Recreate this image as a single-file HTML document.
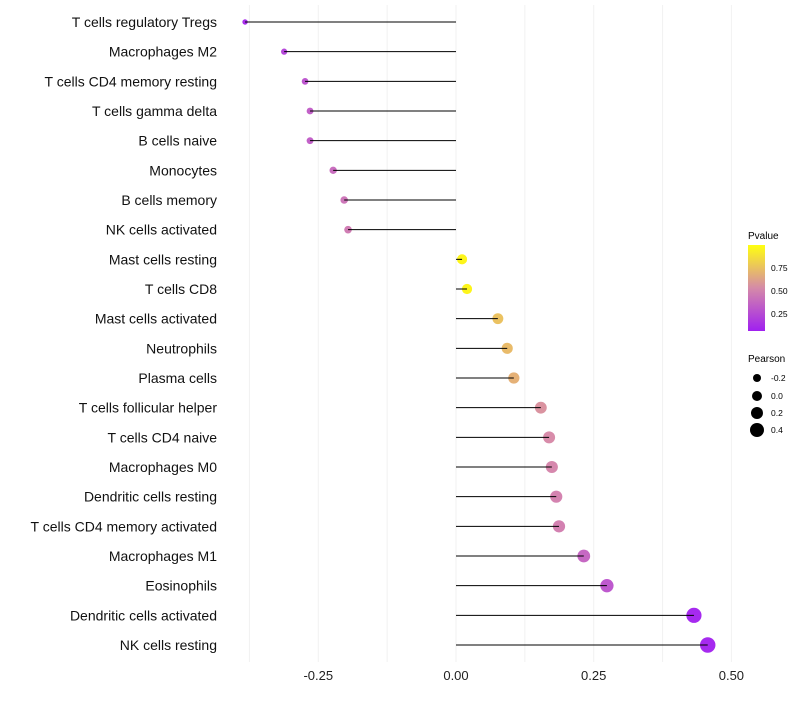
<!DOCTYPE html>
<html><head><meta charset="utf-8"><style>
body{margin:0;background:#fff;font-family:"Liberation Sans",sans-serif}
</style></head><body>
<svg id="chart" width="800" height="700" xmlns="http://www.w3.org/2000/svg" font-family="Liberation Sans, sans-serif">
<defs><linearGradient id="pg" x1="0" y1="1" x2="0" y2="0">
<stop offset="0" stop-color="#A020F0"/><stop offset="0.5" stop-color="#D58AA8"/><stop offset="1" stop-color="#FFFF10"/></linearGradient></defs>
<g id="grid"></g><g id="dots"></g><g id="marks"></g><g id="labels"></g><g id="xaxis"></g>
<g>
<text x="748" y="239" font-size="10">Pvalue</text>
<rect x="748" y="245" width="17" height="86" fill="url(#pg)"/>
<text x="771" y="271" font-size="8.5">0.75</text>
<text x="771" y="294" font-size="8.5">0.50</text>
<text x="771" y="317" font-size="8.5">0.25</text>
</g>
<g>
<text x="748" y="362" font-size="10">Pearson</text>
<circle cx="757" cy="378" r="4"/><text x="771" y="381" font-size="8.5">-0.2</text>
<circle cx="757" cy="396" r="5"/><text x="771" y="399" font-size="8.5">0.0</text>
<circle cx="757" cy="413" r="6"/><text x="771" y="416" font-size="8.5">0.2</text>
<circle cx="757" cy="430" r="7"/><text x="771" y="433" font-size="8.5">0.4</text>
</g>
</svg>
<script>
const cells=["T cells regulatory  Tregs","Macrophages M2","T cells CD4 memory resting","T cells gamma delta","B cells naive","Monocytes","B cells memory","NK cells activated","Mast cells resting","T cells CD8","Mast cells activated","Neutrophils","Plasma cells","T cells follicular helper","T cells CD4 naive","Macrophages M0","Dendritic cells resting","T cells CD4 memory activated","Macrophages M1","Eosinophils","Dendritic cells activated","NK cells resting"];
const pearson=[-0.383,-0.312,-0.274,-0.265,-0.265,-0.223,-0.203,-0.196,0.011,0.020,0.076,0.093,0.105,0.154,0.169,0.174,0.182,0.187,0.232,0.274,0.432,0.457];
const pvalue=[0.08,0.2,0.27,0.32,0.32,0.38,0.42,0.45,0.97,0.97,0.75,0.72,0.68,0.55,0.52,0.5,0.48,0.47,0.35,0.28,0.06,0.06];
const ticks=[-0.25,0,0.25,0.5];
const tickLabels=["-0.25","0.00","0.25","0.50"];
const minor=[-0.375,-0.125,0.125,0.375];
const NS="http://www.w3.org/2000/svg";
const x=v=>456+v*550.8;
const y=i=>22+i*29.667;
function mk(t,a,p){const e=document.createElementNS(NS,t);for(const k in a)e.setAttribute(k,a[k]);p.appendChild(e);return e;}
function lerp(a,b,t){return a.map((v,i)=>Math.round(v+(b[i]-v)*t));}
function col(p){const t=Math.max(0,Math.min(1,(p-0.05)/0.94));const A=[165,40,240],M=[216,140,170],B=[255,250,20];
const c=t<0.5?lerp(A,M,t*2):lerp(M,B,(t-0.5)*2);return `rgb(${c})`;}
const g=document.getElementById('grid'),dg=document.getElementById('dots'),m=document.getElementById('marks'),l=document.getElementById('labels'),xa=document.getElementById('xaxis');
minor.concat(ticks).forEach(v=>{const e=mk('line',{x1:x(v),x2:x(v),y1:5,y2:662,stroke:'#f2f2f2','stroke-width':1},g);

});
ticks.forEach((v,i)=>{const t=mk('text',{x:x(v),y:680,'font-size':13,'text-anchor':'middle',fill:'#222'},xa);t.textContent=tickLabels[i];

});
cells.forEach((c,i)=>{
const t=mk('text',{x:217,y:y(i)+5,'font-size':14,'text-anchor':'end',fill:'#111'},l);t.textContent=c;


const r=Math.max(1.3,5+6*pearson[i]);
const d=mk('circle',{cx:x(pearson[i]),cy:y(i),r:r,fill:col(pvalue[i])},dg);


const s=mk('line',{x1:x(0),x2:x(pearson[i]),y1:y(i),y2:y(i),stroke:'#000','stroke-width':1},m);


});
</script>
</body></html>
